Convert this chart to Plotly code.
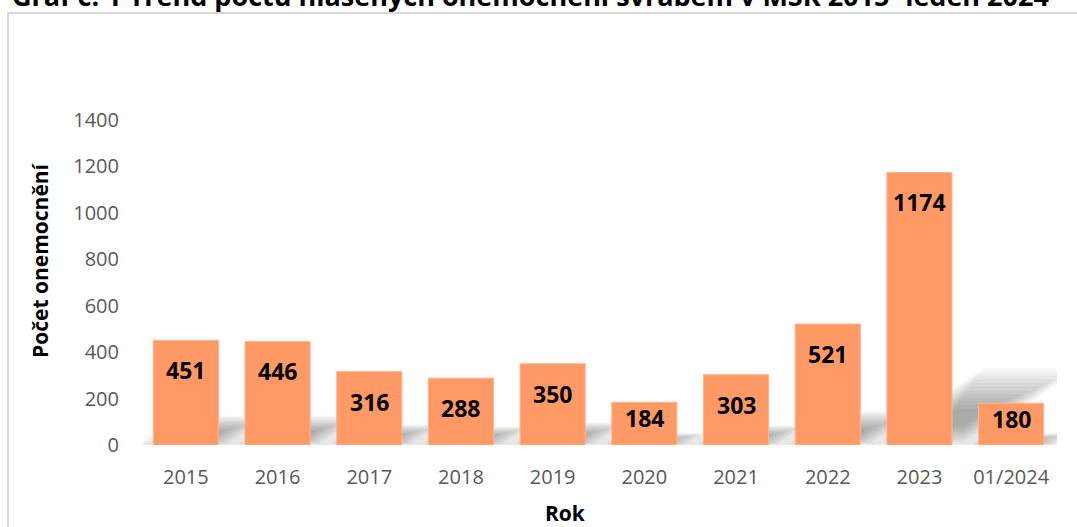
import plotly.graph_objects as go

categories = ["2015", "2016", "2017", "2018", "2019", "2020", "2021", "2022", "2023", "01/2024"]
values = [451, 446, 316, 288, 350, 184, 303, 521, 1174, 180]
y_ticks = [0, 200, 400, 600, 800, 1000, 1200, 1400]

title_text = "Graf č. 1 Trend počtu hlášených onemocnění svrabem v MSK 2015- leden 2024"
x_title = "Rok"
y_title = "Počet onemocnění"

W, H = 1077, 527
ML, MR, MT, MB = 140, 20, 120, 82
plot_w = W - ML - MR
plot_h = H - MT - MB
y_max = 1400
px_per_unit = plot_h / y_max
px_per_cat = plot_w / len(categories)
bargap = 0.29
bar_w = 1 - bargap

FONT = "Open Sans"
BAR_COLOR = "#FF9966"

fig = go.Figure()
fig.add_trace(go.Bar(
    x=list(range(len(categories))), y=values,
    marker=dict(color=BAR_COLOR, line=dict(color="#FFB48C", width=1)),
    customdata=categories, hovertemplate="%{customdata}: %{y}<extra></extra>",
))

shapes = []
# soft perspective shadows behind the bars (layered to fake a blur)
n_layers = 12
for i, v in enumerate(values):
    h_px = v * px_per_unit
    dx = 0.36 * h_px / px_per_cat
    dy = 0.245 * v
    xl = i - bar_w / 2

    def pt(u, t):
        return xl + u * bar_w + t * dx, t * dy

    for j in range(n_layers):
        a = -0.25 + j * 0.045
        t_lo = max(0.0, -0.05 + j * 0.03)
        t_hi = 1.15 - j * 0.055
        p = [pt(a, t_lo), pt(1 - a, t_lo), pt(1 - a, t_hi), pt(a, t_hi)]
        path = "M " + " L ".join(f"{x},{y}" for x, y in p) + " Z"
        shapes.append(dict(type="path", path=path, xref="x", yref="y",
                           fillcolor="rgba(0,0,0,0.03)", line=dict(width=0),
                           layer="below"))

# outer chart border (partially visible)
shapes.append(dict(type="rect", xref="paper", yref="paper",
                   x0=(8 - ML) / plot_w, x1=(W + 20 - ML) / plot_w,
                   y0=-(H + 20 - MT - plot_h) / plot_h,
                   y1=(MT + plot_h - 13) / plot_h,
                   line=dict(color="#D9D9D9", width=2), fillcolor="rgba(0,0,0,0)",
                   layer="below"))

annotations = []
for i, v in enumerate(values):
    h_px = v * px_per_unit
    shift = 30 if h_px > 60 else 0.37 * h_px
    annotations.append(dict(x=i, y=v, xref="x", yref="y",
                            text=f"<b>{v}</b>", showarrow=False,
                            yanchor="middle", yshift=-shift,
                            font=dict(family=FONT, size=23, color="#000000")))

annotations.append(dict(text=f"<b>{title_text}</b>", xref="paper", yref="paper",
                        x=(530 - ML) / plot_w, y=(MT + plot_h + 5) / plot_h,
                        xanchor="center", yanchor="middle", showarrow=False,
                        font=dict(family=FONT, size=27, color="#000000")))
annotations.append(dict(text=f"<b>{y_title}</b>", xref="paper", yref="paper",
                        x=(40 - ML) / plot_w, y=(MT + plot_h - 260) / plot_h,
                        xanchor="center", yanchor="middle", textangle=-90,
                        showarrow=False,
                        font=dict(family=FONT, size=21, color="#000000")))
annotations.append(dict(text=f"<b>{x_title}</b>", xref="paper", yref="paper",
                        x=(565 - ML) / plot_w, y=(MT + plot_h - 513) / plot_h,
                        xanchor="center", yanchor="middle", showarrow=False,
                        font=dict(family=FONT, size=21, color="#000000")))

fig.update_layout(
    width=W, height=H,
    margin=dict(l=ML, r=MR, t=MT, b=MB),
    paper_bgcolor="white", plot_bgcolor="white",
    bargap=bargap,
    showlegend=False,
    shapes=shapes,
    annotations=annotations,
    xaxis=dict(tickmode="array", tickvals=list(range(len(categories))),
               ticktext=categories, showgrid=False, zeroline=False, showline=False,
               ticks="", tickfont=dict(family=FONT, size=20, color="#595959"),
               ticklabelstandoff=18, range=[-0.5, len(categories) - 0.5]),
    yaxis=dict(range=[0, y_max], tickvals=y_ticks, showgrid=False, zeroline=False,
               showline=False, ticks="",
               tickfont=dict(family=FONT, size=20, color="#595959"),
               ticklabelstandoff=20),
)

fig.write_html("out.html")
